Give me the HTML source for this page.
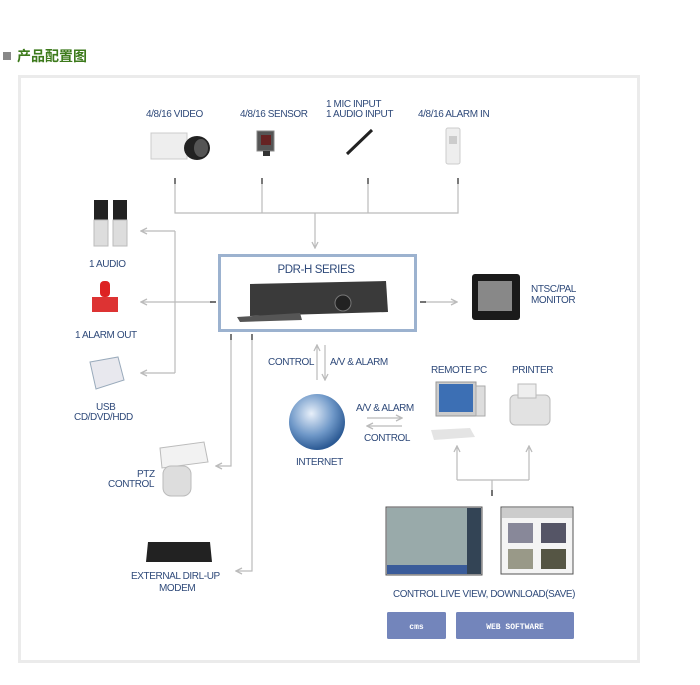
<!DOCTYPE html>
<html><head><meta charset="utf-8"><style>
html,body{margin:0;padding:0;background:#fff;width:700px;height:685px;overflow:hidden}
svg{display:block}
text{font-family:"Liberation Sans Narrow","Liberation Sans",sans-serif;fill:#2f4a7a;font-size:10px;letter-spacing:-0.4px}
</style></head><body>
<svg width="700" height="685" viewBox="0 0 700 685" xmlns="http://www.w3.org/2000/svg">
<defs>
<marker id="a" markerWidth="8" markerHeight="8" refX="7" refY="4" orient="auto" markerUnits="userSpaceOnUse"><path d="M1,1 L7,4 L1,7" fill="none" stroke="#bbb" stroke-width="1.3"/></marker>
<radialGradient id="g" cx="40%" cy="35%" r="65%"><stop offset="0" stop-color="#e8f0fa"/><stop offset="0.6" stop-color="#6f98c8"/><stop offset="1" stop-color="#2c5a94"/></radialGradient>
</defs>
<rect x="3" y="52" width="8" height="8" fill="#888"/>
<text x="17" y="61" style="font-family:'Liberation Sans','Noto Sans CJK SC',sans-serif;font-size:14px;font-weight:bold;fill:#3d7a1c;letter-spacing:0">产品配置图</text>
<rect x="19.5" y="76.5" width="619" height="585" fill="#fff" stroke="#ebebeb" stroke-width="3"/>

<g stroke="#bbb" stroke-width="1.2" fill="none">
<path d="M175,184 V213 H458 V184 M262,184 V213 M368,184 V213"/>
<path d="M315,213 V248" marker-end="url(#a)"/>
<path d="M212,302 H141" marker-end="url(#a)"/>
<path d="M175,231 V373"/>
<path d="M175,231 H141" marker-end="url(#a)"/>
<path d="M175,373 H141" marker-end="url(#a)"/>
<path d="M231,340 V466 H216" marker-end="url(#a)"/>
<path d="M252,340 V571 H236" marker-end="url(#a)"/>
<path d="M425,302 H457" marker-end="url(#a)"/>
<path d="M317,380 V345" marker-end="url(#a)"/>
<path d="M325,345 V380" marker-end="url(#a)"/>
<path d="M367,418 H402" marker-end="url(#a)"/>
<path d="M402,426 H367" marker-end="url(#a)"/>
<path d="M457,480 V446" marker-end="url(#a)"/>
<path d="M529,480 V446" marker-end="url(#a)"/>
<path d="M457,480 H529 M492,480 V496"/>
</g>
<g stroke="#222" stroke-width="1.2">
<path d="M175,178 V184 M262,178 V184 M368,178 V184 M458,178 V184 M210,302 H216 M420,302 H426 M231,334 V340 M252,334 V340 M492,490 V496"/>
</g>

<text x="146" y="117">4/8/16 VIDEO</text>
<text x="240" y="117">4/8/16 SENSOR</text>
<text x="326" y="107">1 MIC INPUT</text>
<text x="326" y="117">1 AUDIO INPUT</text>
<text x="418" y="117">4/8/16 ALARM IN</text>

<rect x="151" y="133" width="36" height="26" fill="#eee" stroke="#ccc"/>
<ellipse cx="197" cy="148" rx="13" ry="12" fill="#222"/>
<ellipse cx="201" cy="148" rx="7" ry="9" fill="#555"/>
<rect x="257" y="131" width="17" height="20" fill="#555" stroke="#888"/>
<rect x="261" y="135" width="10" height="10" fill="#622"/>
<rect x="263" y="151" width="7" height="5" fill="#333"/>
<path d="M347,154 L372,130" stroke="#222" stroke-width="3"/>
<rect x="446" y="128" width="14" height="36" rx="2" fill="#eee" stroke="#ccc"/>
<rect x="449" y="136" width="8" height="8" fill="#ccc"/>

<rect x="94" y="200" width="14" height="20" fill="#222"/><rect x="94" y="220" width="14" height="26" fill="#ddd" stroke="#bbb"/>
<rect x="113" y="200" width="14" height="20" fill="#222"/><rect x="113" y="220" width="14" height="26" fill="#ddd" stroke="#bbb"/>
<text x="89" y="267">1 AUDIO</text>
<rect x="100" y="281" width="10" height="16" rx="4" fill="#d22"/>
<rect x="92" y="297" width="26" height="15" fill="#d33"/>
<text x="75" y="338">1 ALARM OUT</text>
<path d="M90,362 L118,357 L124,380 L96,389 Z" fill="#e8e8ee" stroke="#9ab"/>
<text x="96" y="410">USB</text>
<text x="74" y="420">CD/DVD/HDD</text>
<path d="M160,448 L204,442 L208,462 L162,468 Z" fill="#f2f2f2" stroke="#bbb"/>
<rect x="163" y="466" width="28" height="30" rx="8" fill="#ddd" stroke="#bbb"/>
<text x="137" y="477">PTZ</text>
<text x="108" y="487">CONTROL</text>
<path d="M148,542 L210,542 L212,562 L146,562 Z" fill="#222"/>
<text x="131" y="579">EXTERNAL DIRL-UP</text>
<text x="159" y="591">MODEM</text>

<rect x="219.5" y="255.5" width="196" height="75" fill="#fff" stroke="#9cb2cf" stroke-width="3"/>
<text x="316" y="273" text-anchor="middle" style="font-size:11.5px">PDR-H SERIES</text>
<path d="M250,284 L386,281 L388,312 L250,316 Z" fill="#3a3a3a"/>
<path d="M237,317 L300,313 L302,320 L240,322 Z" fill="#555"/>
<circle cx="343" cy="303" r="8" fill="#222" stroke="#777"/>

<rect x="472" y="274" width="48" height="46" rx="3" fill="#1a1a1a"/>
<rect x="478" y="281" width="34" height="30" fill="#888"/>
<text x="531" y="292">NTSC/PAL</text>
<text x="531" y="303">MONITOR</text>

<text x="268" y="365">CONTROL</text>
<text x="330" y="365">A/V &amp; ALARM</text>
<circle cx="317" cy="422" r="28" fill="url(#g)"/>
<text x="296" y="465">INTERNET</text>
<text x="356" y="411">A/V &amp; ALARM</text>
<text x="364" y="441">CONTROL</text>

<text x="431" y="373">REMOTE PC</text>
<text x="512" y="373">PRINTER</text>
<rect x="436" y="382" width="40" height="34" fill="#ccc" stroke="#999"/>
<rect x="439" y="384" width="34" height="28" fill="#3c6fb4"/>
<rect x="476" y="386" width="9" height="30" fill="#ddd" stroke="#aaa"/>
<path d="M431,430 L470,428 L475,437 L434,440 Z" fill="#e4e4e4"/>
<rect x="510" y="395" width="40" height="30" rx="5" fill="#e2e2e2" stroke="#bbb"/>
<rect x="518" y="384" width="18" height="14" fill="#eee" stroke="#bbb"/>

<rect x="386" y="507" width="96" height="68" fill="#c8c8cc" stroke="#555"/>
<rect x="387" y="508" width="80" height="57" fill="#9aa"/>
<rect x="467" y="508" width="14" height="66" fill="#345"/>
<rect x="387" y="565" width="80" height="9" fill="#3a5c9a"/>
<rect x="501" y="507" width="72" height="67" fill="#f4f4f4" stroke="#555"/>
<rect x="502" y="508" width="70" height="10" fill="#ccc"/>
<rect x="508" y="523" width="25" height="20" fill="#889"/><rect x="541" y="523" width="25" height="20" fill="#556"/>
<rect x="508" y="549" width="25" height="20" fill="#998"/><rect x="541" y="549" width="25" height="20" fill="#554"/>
<text x="393" y="597" textLength="182" lengthAdjust="spacingAndGlyphs">CONTROL LIVE VIEW, DOWNLOAD(SAVE)</text>

<rect x="387" y="612" width="59" height="27" rx="1.5" fill="#7385bb"/>
<text x="416.5" y="629" text-anchor="middle" style="fill:#fff;font-size:8px;font-weight:bold;font-family:'Liberation Mono',monospace;letter-spacing:0">cms</text>
<rect x="456" y="612" width="118" height="27" rx="1.5" fill="#7385bb"/>
<text x="515" y="629" text-anchor="middle" style="fill:#fff;font-size:8px;font-weight:bold;font-family:'Liberation Mono',monospace;letter-spacing:0">WEB SOFTWARE</text>
</svg>
</body></html>
